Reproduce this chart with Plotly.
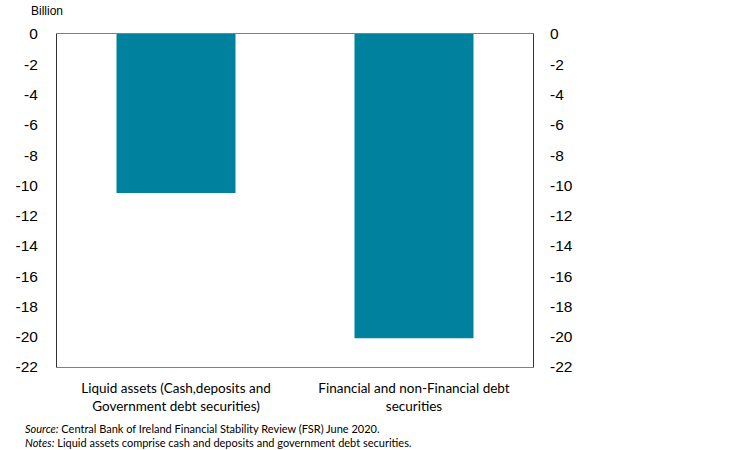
import plotly.graph_objects as go

categories = [
    "Liquid assets (Cash,deposits and<br>Government debt securities)",
    "Financial and non-Financial debt<br>securities",
]
values = [-10.5, -20.1]
tick_vals = [0, -2, -4, -6, -8, -10, -12, -14, -16, -18, -20, -22]
tick_text = [str(v) for v in tick_vals]  # plain hyphen, not unicode minus

TEAL = "#00829f"
LATO = "Lato, Arial, sans-serif"
ARIAL = "Arial, Liberation Sans, sans-serif"

W, H = 756, 450
ML, MR, MT, MB = 57, 223, 34, 83

fig = go.Figure()
fig.add_trace(go.Bar(
    x=categories, y=values,
    marker=dict(color=TEAL, line=dict(width=0)),
    showlegend=False,
    hovertemplate="%{y:.1f} bn<extra></extra>",
))
# invisible copy for the right axis
fig.add_trace(go.Scatter(
    x=categories, y=values, yaxis="y2", mode="markers",
    marker=dict(opacity=0), showlegend=False, hoverinfo="skip",
))

axis_common = dict(
    range=[-22, 0], tickvals=tick_vals, ticktext=tick_text,
    showgrid=False, zeroline=False,
    tickfont=dict(family=ARIAL, size=15.5, color="#000"),
    ticks="", fixedrange=True,
)
fig.update_layout(
    width=W, height=H,
    paper_bgcolor="white", plot_bgcolor="white",
    margin=dict(l=ML, r=MR, t=MT, b=MB),
    bargap=0.5,
    font=dict(family=LATO, color="#000"),
    xaxis=dict(
        showline=True, linecolor="#808080", linewidth=1, mirror=True,
        tickfont=dict(family=LATO, size=13.5, color="#000"), ticks="",
        ticklabelstandoff=9,
    ),
    yaxis=dict(showline=True, linecolor="#333", linewidth=1, mirror=True,
               ticklabelstandoff=15, **axis_common),
    yaxis2=dict(overlaying="y", side="right", showline=False,
                ticklabelstandoff=16, **axis_common),
)

pw, ph = W - ML - MR, H - MT - MB


def px2paper(px, py):
    return (px - ML) / pw, (H - MB - py) / ph


bx, by = px2paper(29, 11)
sx, sy = px2paper(23, 435)
fig.add_annotation(text="Billion", x=bx, y=by, xref="paper", yref="paper",
                   xanchor="left", yanchor="middle", showarrow=False,
                   font=dict(family=ARIAL, size=12))
fig.add_annotation(
    text="<i>Source:</i> Central Bank of Ireland Financial Stability Review (FSR) June 2020.<br>"
         "<i>Notes:</i> Liquid assets comprise cash and deposits and government debt securities.",
    x=sx, y=sy, xref="paper", yref="paper", xanchor="left", yanchor="middle",
    align="left", showarrow=False, font=dict(family=LATO, size=11))

# drop the default page margin so the figure sits at the window's corner
fig.write_html("out.html", config={"displayModeBar": False},
               post_script="document.body.style.margin='0px';")
